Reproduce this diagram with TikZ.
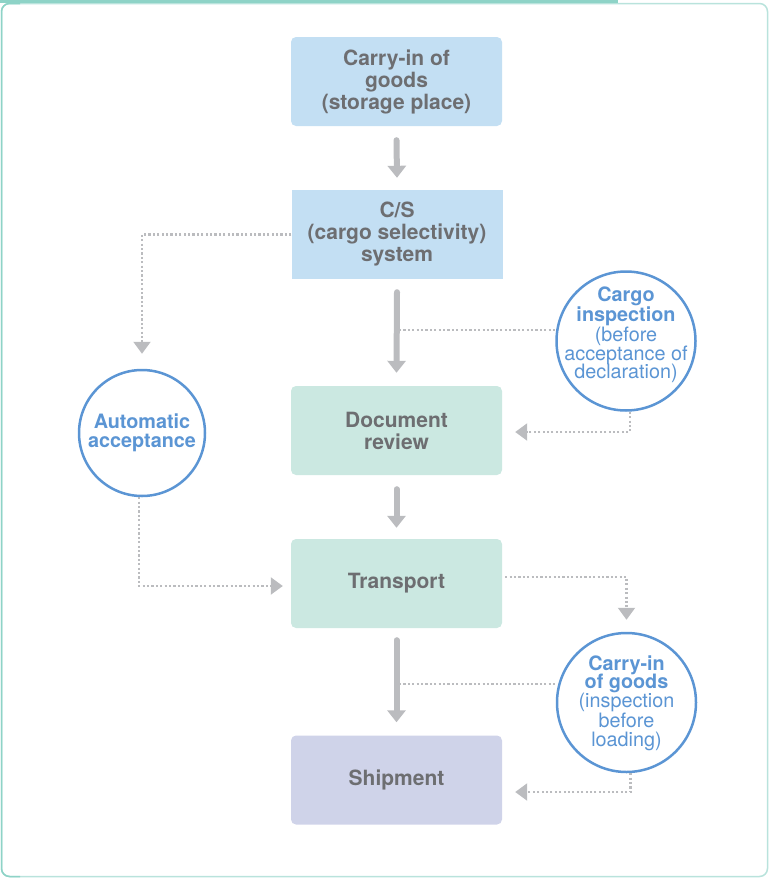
\documentclass[tikz,border=0pt]{standalone}
\usepackage{fontspec}
\setmainfont{TeX Gyre Heros}
\usetikzlibrary{arrows.meta}
\definecolor{txtgray}{HTML}{6D6E71}
\definecolor{cblue}{HTML}{5B95D4}
\definecolor{boxblue}{HTML}{C3DFF3}
\definecolor{boxmint}{HTML}{CBE8E1}
\definecolor{boxlav}{HTML}{CFD3E9}
\definecolor{argray}{HTML}{BBBCBF}
\definecolor{frameteal}{HTML}{8ED3C7}
\definecolor{framelight}{HTML}{B9E3DC}
\begin{document}
\begin{tikzpicture}[x=1pt,y=-1pt,
 stepbox/.style={minimum width=211pt,minimum height=89pt,rounded corners=5pt,inner sep=0pt,align=center,text=txtgray,font=\fontsize{21}{22}\selectfont\bfseries},
 circ/.style={circle,draw=cblue,line width=2.5pt,fill=white,inner sep=0pt},
 circtext/.style={inner sep=0pt,align=center,text=cblue,font=\fontsize{19.8}{18.8}\selectfont},
 bigarrow/.style={draw=argray,line width=6pt,line cap=round,-{Triangle[width=18pt,length=12pt]}},
 dotline/.style={draw=argray,line width=2.1pt,dash pattern=on 2.1pt off 2.3pt},
 dotarrow/.style={dotline,-{Triangle[width=17pt,length=12pt]}}
]
\useasboundingbox (0,0) rectangle (769,878);
% frame
\draw[framelight,line width=1.5pt,rounded corners=8pt] (1.5,3.5) rectangle (767.5,876.5);
\draw[frameteal,line width=1.5pt,rounded corners=8pt] (20,876.5) -- (1.5,876.5) -- (1.5,3.5) -- (20,3.5);
\fill[frameteal] (0,0) rectangle (618,3);

% boxes
\node[stepbox,fill=boxblue] (b1) at (396.5,81.5) {Carry-in of\\goods\\(storage place)};
\node[stepbox,fill=boxblue,rounded corners=0pt] (b2) at (397,234.5) {C/S\\(cargo selectivity)\\system};
\node[stepbox,fill=boxmint] (b3) at (396.5,430.5) {Document\\review};
\node[stepbox,fill=boxmint] (b4) at (396.5,583.5) {Transport};
\node[stepbox,fill=boxlav] (b5) at (396.5,780) {Shipment};

% circles
\node[circ,minimum size=139pt] (c1) at (626,341) {};
\node[circtext] (c1t) at (626,335) {\textbf{Cargo}\\\textbf{inspection}\\(before\\acceptance of\\declaration)};
\node[circ,minimum size=126pt] (auto) at (142,433) {};
\node[circtext] (autot) at (142,433) {\textbf{Automatic}\\\textbf{acceptance}};
\node[circ,minimum size=139pt] (c3) at (626.5,702.5) {};
\node[circtext] (c3t) at (626.5,703) {\textbf{Carry-in}\\\textbf{of goods}\\(inspection\\before\\loading)};

% main arrows
\draw[bigarrow] ([yshift=-14pt]b1.south) -- ([yshift=12pt]b2.north);
\draw[bigarrow] ([yshift=-13pt]b2.south) -- ([yshift=13pt]b3.north);
\draw[bigarrow] ([yshift=-14pt]b3.south) -- ([yshift=11pt]b4.north);
\draw[bigarrow] ([yshift=-12pt]b4.south) -- ([yshift=13pt]b5.north);

% dotted connectors
\coordinate (m2) at (399,330);
\coordinate (m4) at (399,684);
\draw[dotarrow] (b2.west) -| ([yshift=15pt]auto.north);
\draw[dotline] (m2) -- (c1.west |- m2);
\draw[dotarrow] ([xshift=4pt]c1.south) |- ([xshift=13pt,yshift=-1.5pt]b3.east);
\draw[dotarrow] ([xshift=-3pt]auto.south) |- ([xshift=-8pt,yshift=-2.5pt]b4.west);
\draw[dotarrow] ([xshift=3pt,yshift=6.5pt]b4.east) -| ([yshift=12pt]c3.north);
\draw[dotline] (m4) -- (c3.west |- m4);
\draw[dotarrow] ([xshift=4pt]c3.south) |- ([xshift=13pt,yshift=-12pt]b5.east);
\end{tikzpicture}
\end{document}
